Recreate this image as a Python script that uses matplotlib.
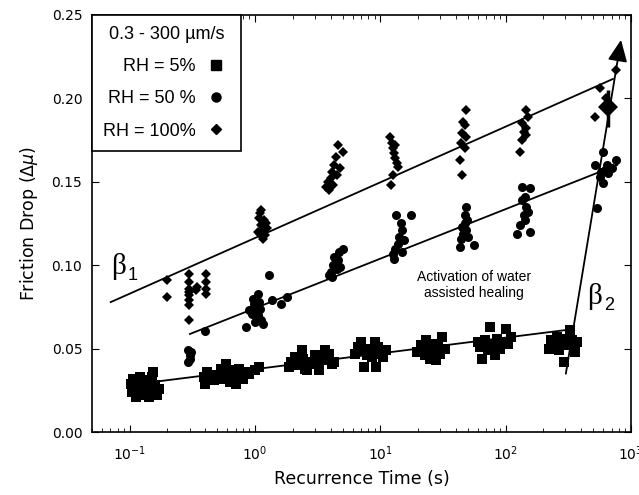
import numpy as np
import matplotlib.pyplot as plt
from matplotlib.lines import Line2D
from matplotlib.ticker import FormatStrFormatter

# RH = 5 % (squares)
rh5_t = [0.102, 0.104, 0.107, 0.110, 0.112, 0.115, 0.118, 0.120, 0.123, 0.126, 0.130,
         0.133, 0.137, 0.140, 0.143, 0.147, 0.150, 0.153, 0.157, 0.160, 0.165, 0.170,
         0.39, 0.40, 0.41, 0.47, 0.50, 0.53, 0.56, 0.59, 0.60, 0.63, 0.66, 0.70, 0.72,
         0.75, 0.80, 0.84, 0.90, 1.00, 1.08,
         1.85, 1.95, 2.1, 2.2, 2.35, 2.4, 2.5, 2.6, 2.8, 3.0, 3.1, 3.25, 3.4, 3.6, 3.7,
         3.9, 4.1, 4.3,
         6.3, 6.6, 7.0, 7.2, 7.45, 7.8, 8.0, 8.3, 8.6, 9.0, 9.2, 9.5, 9.9, 10.4, 11.0,
         19.5, 21, 22.5, 23, 24.5, 25, 26, 27, 28, 29, 30, 31, 33,
         60, 62, 65, 68, 72, 74.5, 78, 82, 86, 90, 95, 100, 105, 110,
         220, 230, 245, 255, 265, 275, 290, 300, 310, 325, 340, 355, 370]
rh5_mu = [0.029, 0.024, 0.032, 0.027, 0.021, 0.030, 0.025, 0.033, 0.028, 0.022, 0.031,
          0.026, 0.024, 0.029, 0.021, 0.027, 0.033, 0.036, 0.024, 0.028, 0.022, 0.026,
          0.033, 0.029, 0.036, 0.031, 0.034, 0.038, 0.032, 0.041, 0.035, 0.030, 0.037,
          0.029, 0.034, 0.038, 0.032, 0.036, 0.035, 0.037, 0.039,
          0.039, 0.042, 0.045, 0.040, 0.049, 0.044, 0.038, 0.037, 0.042, 0.046, 0.041,
          0.037, 0.044, 0.049, 0.043, 0.047, 0.041, 0.042,
          0.047, 0.051, 0.054, 0.049, 0.039, 0.046, 0.050, 0.048, 0.045, 0.054, 0.039,
          0.051, 0.047, 0.045, 0.049,
          0.048, 0.052, 0.046, 0.055, 0.050, 0.044, 0.053, 0.049, 0.043, 0.051, 0.047,
          0.057, 0.050,
          0.054, 0.051, 0.044, 0.055, 0.049, 0.063, 0.052, 0.046, 0.056, 0.050, 0.054,
          0.062, 0.053, 0.057,
          0.050, 0.055, 0.053, 0.057, 0.049, 0.054, 0.042, 0.056, 0.052, 0.061, 0.055,
          0.048, 0.054]

# RH = 50 % (circles)
rh50_t = [0.29, 0.29, 0.30, 0.30, 0.31, 0.40,
          0.85, 0.90, 0.95, 0.97, 0.98, 1.00, 1.00, 1.02, 1.05, 1.05, 1.08, 1.10, 1.12,
          1.15, 1.30, 1.36, 1.60, 1.80,
          3.9, 4.0, 4.1, 4.2, 4.3, 4.4, 4.5, 4.6, 4.7, 4.8, 5.0,
          12.5, 13.0, 13.4, 13.7, 14.2, 14.7, 15.0, 15.0, 15.5, 17.7, 12.8,
          43, 44, 45, 46, 47, 47, 48, 48, 49, 50, 56,
          122, 130, 136, 136, 140, 142, 142, 145, 150, 156, 156,
          520, 540, 565, 580, 600, 600, 620, 640, 660, 700, 760]
rh50_mu = [0.049, 0.042, 0.046, 0.044, 0.048, 0.0605,
           0.063, 0.073, 0.071, 0.080, 0.077, 0.075, 0.066, 0.072, 0.083, 0.070, 0.078,
           0.074, 0.067, 0.065, 0.094, 0.079, 0.077, 0.081,
           0.094, 0.096, 0.093, 0.100, 0.105, 0.101, 0.098, 0.103, 0.108, 0.099, 0.110,
           0.107, 0.110, 0.130, 0.113, 0.117, 0.125, 0.121, 0.108, 0.115, 0.130, 0.104,
           0.111, 0.116, 0.123, 0.119, 0.130, 0.125, 0.135, 0.121, 0.127, 0.117, 0.112,
           0.119, 0.124, 0.139, 0.147, 0.130, 0.141, 0.127, 0.135, 0.132, 0.146, 0.120,
           0.160, 0.134, 0.153, 0.156, 0.168, 0.149, 0.157, 0.160, 0.155, 0.158, 0.163]

# RH = 100 % (diamonds)
rh100_t = [0.198, 0.198,
           0.296, 0.296, 0.296, 0.296, 0.296, 0.296, 0.296, 0.296,
           0.406, 0.406, 0.406, 0.406, 0.34, 0.345,
           1.05, 1.08, 1.10, 1.10, 1.12, 1.12, 1.15, 1.15, 1.18, 1.20, 1.22, 1.25,
           3.7, 3.8, 3.9, 4.0, 4.1, 4.2, 4.3, 4.4, 4.5, 4.6, 4.8, 5.0,
           12.0, 12.3, 12.6, 12.9, 13.2, 13.5, 13.8, 12.5, 12.2, 13.0,
           43, 44, 45, 45, 46, 47, 47, 48, 48,
           129, 136, 136, 140, 146, 146, 150, 145,
           515, 565, 630, 760]
rh100_mu = [0.091, 0.081,
            0.095, 0.090, 0.086, 0.084, 0.082, 0.079, 0.076, 0.067,
            0.095, 0.090, 0.086, 0.083, 0.085, 0.087,
            0.120, 0.128, 0.131, 0.119, 0.124, 0.133, 0.121, 0.116, 0.127, 0.118, 0.125,
            0.122,
            0.147, 0.150, 0.145, 0.152, 0.156, 0.148, 0.160, 0.165, 0.154, 0.172, 0.158,
            0.168,
            0.177, 0.173, 0.170, 0.167, 0.164, 0.161, 0.159, 0.154, 0.148, 0.172,
            0.163, 0.173, 0.179, 0.154, 0.186, 0.184, 0.170, 0.193, 0.177,
            0.168, 0.185, 0.175, 0.180, 0.193, 0.182, 0.189, 0.178,
            0.189, 0.206, 0.200, 0.217]

# average of the slowest RH = 100 % run with its spread
mean_t = [650]
mean_mu = [0.195]
mean_lo = [0.012]
mean_hi = [0.010]

# fitted log-linear trends
fit100_t, fit100_mu = [0.0705, 718], [0.0779, 0.2116]
fit50_t, fit50_mu = [0.302, 773], [0.0588, 0.160]
fit5_t, fit5_mu = [0.098, 344], [0.0282, 0.0617]
beta2_t, beta2_mu = [302, 832], [0.035, 0.235]

helv = 'Liberation Sans'
times = 'Liberation Serif'

fig = plt.figure(figsize=(6.39, 4.95), dpi=100)
ax = fig.add_axes([0.144, 0.127, 0.8435, 0.843])

ax.plot(rh5_t, rh5_mu, 's', color='black', ms=6.5, mew=0)
ax.plot(rh50_t, rh50_mu, 'o', color='black', ms=6.5, mew=0)
ax.plot(rh100_t, rh100_mu, 'D', color='black', ms=5.5, mew=0)
ax.errorbar(mean_t, mean_mu, yerr=[mean_lo, mean_hi], fmt='D', color='black',
            ms=10, mew=0, elinewidth=2.5, capsize=3)

ax.plot(fit100_t, fit100_mu, color='black', lw=1.3)
ax.plot(fit50_t, fit50_mu, color='black', lw=1.3)
ax.plot(fit5_t, fit5_mu, color='black', lw=1.3)
ax.annotate('', xy=(beta2_t[1], beta2_mu[1]), xytext=(beta2_t[0], beta2_mu[0]),
            arrowprops=dict(arrowstyle='-|>,head_length=1.1,head_width=0.5',
                            color='black', lw=1.3, shrinkA=0, shrinkB=0,
                            mutation_scale=12))

# beta labels with sans subscripts
for bt, bmu, sub in [(0.082, 0.099, '1'), (515, 0.081, '2')]:
    ax.text(bt, bmu, 'β', family=times, fontsize=21, ha='center', va='center')
    ax.annotate(sub, xy=(bt, bmu), xytext=(10, -6), textcoords='offset points',
                family=helv, fontsize=13, ha='center', va='center')

ax.text(56, 0.088, 'Activation of water\nassisted healing', family=helv, fontsize=10,
        ha='center', va='center', linespacing=1.15)

ax.set_xscale('log')
ax.set_xlim(0.05, 1000)
ax.set_ylim(0, 0.25)
ax.set_yticks(np.arange(0, 0.26, 0.05))
ax.yaxis.set_major_formatter(FormatStrFormatter('%.2f'))
ax.tick_params(which='both', direction='in', top=True, right=True, labelsize=10)
ax.tick_params(which='major', length=5, pad=7)
ax.tick_params(axis='x', which='major', pad=9)
ax.tick_params(which='minor', length=3)
for s in ax.spines.values():
    s.set_linewidth(1.2)

ax.set_xlabel('Recurrence Time (s)', fontsize=12.5, labelpad=5)
ax.set_ylabel(r'Friction Drop ($\Delta\mu$)', fontsize=12.5, labelpad=8)

handles = [Line2D([], [], marker='s', ls='none', color='black', ms=6.5),
           Line2D([], [], marker='o', ls='none', color='black', ms=6.5),
           Line2D([], [], marker='D', ls='none', color='black', ms=5.5)]
labels = ['  RH = 5%', 'RH = 50 %', 'RH = 100%']
leg = ax.legend(handles, labels, loc='upper left', bbox_to_anchor=(0, 1),
                borderaxespad=0, markerfirst=False, title='0.3 - 300 µm/s',
                prop={'family': helv, 'size': 13},
                title_fontproperties={'family': helv, 'size': 13},
                fancybox=False, edgecolor='black', framealpha=1,
                handlelength=1.5, handletextpad=0.4, labelspacing=0.85, borderpad=0.6)
leg.get_frame().set_linewidth(1.2)

fig.savefig('out.png', dpi=100)
